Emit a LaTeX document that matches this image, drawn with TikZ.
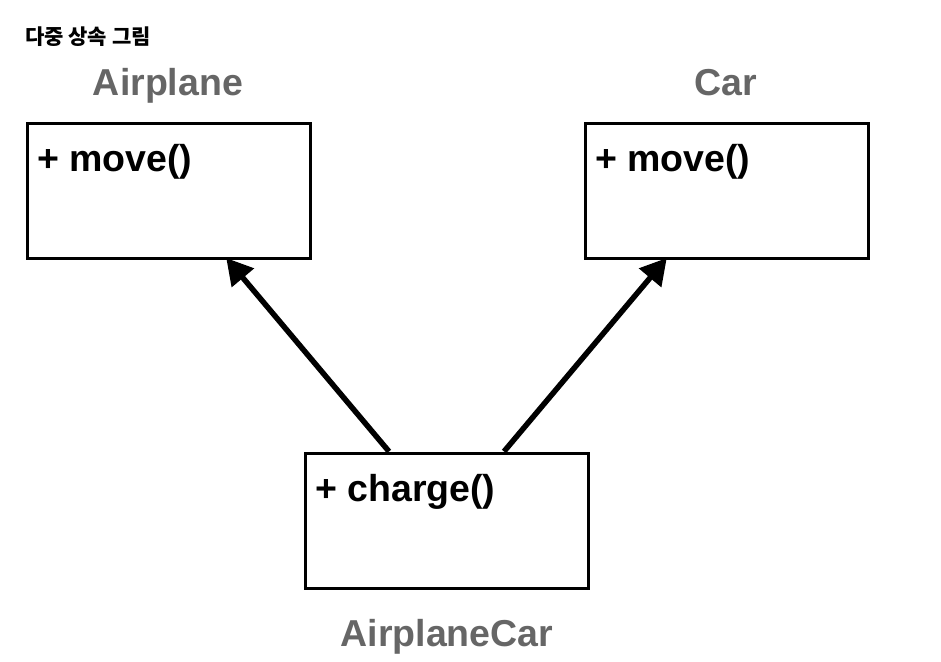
\documentclass[tikz,border=0pt]{standalone}
\usepackage{fontspec}
\setmainfont{Liberation Sans}
\newfontfamily\krfont{Noto Sans CJK KR}
\usetikzlibrary{arrows.meta,positioning}
\definecolor{labelgray}{HTML}{666666}
\tikzset{classbox/.style = {shape = rectangle, draw, line width = 3pt, minimum width = 283pt, minimum height = 135pt, inner sep = 0pt}}
\tikzset{method/.style = {anchor = base west, inner sep = 0pt, font = \fontsize{37.5}{42}\selectfont\bfseries}}
\tikzset{classname/.style = {anchor = base, inner sep = 0pt, text = labelgray, font = \fontsize{37.5}{42}\selectfont\bfseries}}
\tikzset{edge/.style = {-{Triangle[length = 26pt, width = 28pt]}, line width = 5.5pt, shorten >= -2pt}}

\begin{document}
\begin{tikzpicture}[x = 1pt, y = -1pt]
			\useasboundingbox (0, 0) rectangle (941, 661);
			\node[anchor = base west, inner sep = 0pt, font = \krfont\fontsize{21}{24}\selectfont\bfseries] (title) at (25, 45) {다중 상속 그림};

			\node[classbox] (a) at (168.5, 190.5) {};
			\node[classbox] (c) at (726.5, 190.5) {};
			\node[classbox] (ac) at (447, 520.5) {};

			\node[classname] (an) at (168, 95) {Airplane};
			\node[classname] (cn) at (726, 95) {Car};
			\node[classname] (acn) at (447, 646) {AirplaneCar};

			\node[method] (am) at (37, 171) {+ move()};
			\node[method] (cm) at (595, 171) {+ move()};
			\node[method] (acm) at (315, 501) {+ charge()};

			\coordinate (s1) at ([xshift = 85pt] ac.north west);
			\coordinate (s2) at ([xshift = 200pt] ac.north west);
			\coordinate (t1) at ([xshift = 202pt] a.south west);
			\coordinate (t2) at ([xshift = 82pt] c.south west);

			\draw[edge] (s1) to (t1);
			\draw[edge] (s2) to (t2);
		\end{tikzpicture}
\end{document}
